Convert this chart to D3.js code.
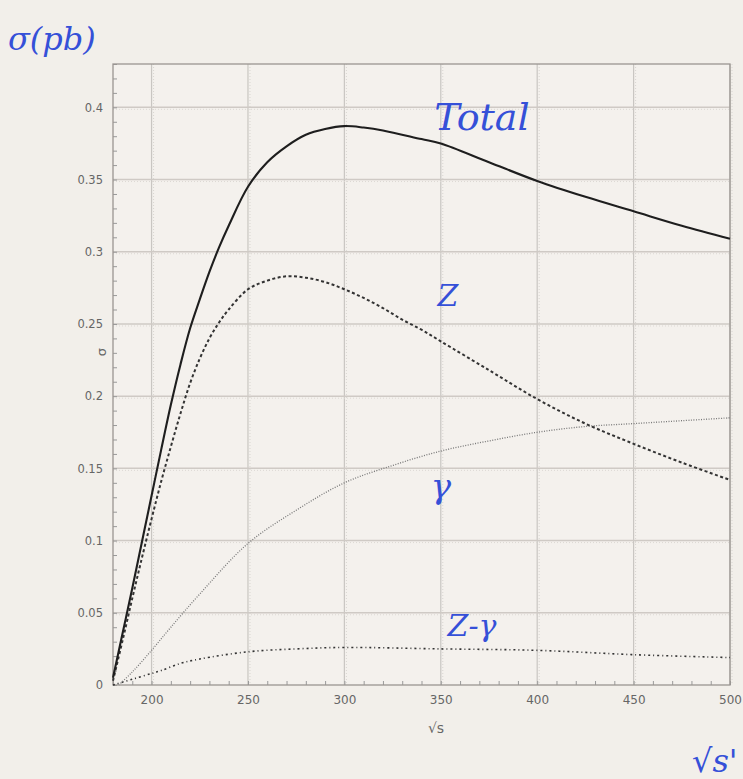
<!DOCTYPE html>
<html>
<head>
<meta charset="utf-8">
<script src="https://cdn.jsdelivr.net/npm/d3@7"></script>
<style>
  body { margin: 0; background: #f2efea; }
  svg { display: block; }
</style>
</head>
<body>
<div id="chart-area"></div>
<script>
// sqrt(s) sample points (GeV) and cross sections (pb)
var totalS   = [180, 185, 190, 195, 200, 205, 210, 215, 220, 225, 230, 235, 240, 250, 260, 270, 280, 290, 300, 310, 320, 340, 350, 375, 400, 425, 450, 475, 500];
var totalVal = [0.005, 0.036, 0.067, 0.099, 0.131, 0.163, 0.194, 0.222, 0.247, 0.267, 0.286, 0.303, 0.318, 0.345, 0.362, 0.373, 0.381, 0.385, 0.387, 0.386, 0.384, 0.378, 0.375, 0.362, 0.349, 0.338, 0.328, 0.318, 0.309];

var zS   = [180, 185, 190, 195, 200, 205, 210, 215, 220, 225, 230, 235, 240, 250, 260, 270, 280, 290, 300, 310, 320, 330, 340, 350, 375, 400, 425, 450, 475, 500];
var zVal = [0.003, 0.031, 0.06, 0.088, 0.115, 0.141, 0.165, 0.188, 0.209, 0.226, 0.24, 0.251, 0.26, 0.274, 0.28, 0.283, 0.282, 0.279, 0.274, 0.268, 0.261, 0.253, 0.246, 0.238, 0.218, 0.198, 0.181, 0.167, 0.154, 0.142];

var gS   = [183, 190, 200, 210, 225, 250, 275, 300, 325, 350, 375, 400, 425, 450, 475, 500];
var gVal = [0.0, 0.009, 0.024, 0.04, 0.063, 0.098, 0.121, 0.14, 0.152, 0.162, 0.169, 0.175, 0.179, 0.181, 0.183, 0.185];

var zgS   = [180, 190, 200, 205, 215, 225, 250, 275, 300, 350, 400, 450, 500];
var zgVal = [0.0, 0.004, 0.008, 0.01, 0.015, 0.018, 0.023, 0.025, 0.026, 0.025, 0.024, 0.021, 0.019];

var xTicks = [200, 250, 300, 350, 400, 450, 500];
var yTicks = [0, 0.05, 0.1, 0.15, 0.2, 0.25, 0.3, 0.35, 0.4];

var svgW = 743, svgH = 779;
var margin = {left: 113, top: 64, right: 13, bottom: 94};
var width = svgW - margin.left - margin.right;
var height = svgH - margin.top - margin.bottom;

var svg = d3.select("#chart-area").append("svg")
    .attr("width", svgW)
    .attr("height", svgH);

svg.append("rect").attr("width", svgW).attr("height", svgH).attr("fill", "#f2efea");

var g = svg.append("g")
    .attr("transform", "translate(" + margin.left + "," + margin.top + ")");

var x = d3.scaleLinear().domain([180, 500]).range([0, width]);
var y = d3.scaleLinear().domain([0, 0.43]).range([height, 0]);

// plot area
g.append("rect").attr("width", width).attr("height", height).attr("fill", "#f4f1ed");

// grid: pale solid line with a dotted trace beside it, like the scanned printout
xTicks.forEach(function(v) {
  g.append("line").attr("x1", x(v)).attr("x2", x(v)).attr("y1", 0).attr("y2", height)
    .attr("stroke", "#c9c6c2").attr("stroke-width", 1.2);
  g.append("line").attr("x1", x(v) + 2).attr("x2", x(v) + 2).attr("y1", 0).attr("y2", height)
    .attr("stroke", "#d8d5d1").attr("stroke-width", 1).attr("stroke-dasharray", "1,2");
});
yTicks.slice(1).forEach(function(v) {
  g.append("line").attr("x1", 0).attr("x2", width).attr("y1", y(v)).attr("y2", y(v))
    .attr("stroke", "#cfcac5").attr("stroke-width", 1.5);
  g.append("line").attr("x1", 0).attr("x2", width).attr("y1", y(v) + 2).attr("y2", y(v) + 2)
    .attr("stroke", "#dcd8d3").attr("stroke-width", 1).attr("stroke-dasharray", "1,2");
});

// minor ticks drawn inward
var yMinor = d3.axisRight(y).ticks(43).tickSize(4).tickFormat("");
g.append("g").call(yMinor).call(function(s) {
  s.select(".domain").remove();
  s.selectAll("line").attr("stroke", "#999");
});
var xMinor = d3.axisTop(x).ticks(32).tickSize(4).tickFormat("");
g.append("g").attr("transform", "translate(0," + height + ")").call(xMinor).call(function(s) {
  s.select(".domain").remove();
  s.selectAll("line").attr("stroke", "#999");
});

var xAxisCall = d3.axisBottom(x).tickValues(xTicks).tickSize(0).tickPadding(10);
g.append("g").attr("transform", "translate(0," + height + ")").call(xAxisCall).call(function(s) {
  s.select(".domain").remove();
  s.selectAll("text").attr("font-family", "DejaVu Sans").attr("font-size", 12).attr("fill", "#666");
});
var yAxisCall = d3.axisLeft(y).tickValues(yTicks).tickSize(0).tickPadding(10).tickFormat(d3.format("~g"));
g.append("g").call(yAxisCall).call(function(s) {
  s.select(".domain").remove();
  s.selectAll("text").attr("font-family", "DejaVu Sans").attr("font-size", 11.5).attr("fill", "#666");
});

// frame
g.append("rect").attr("width", width).attr("height", height)
  .attr("fill", "none").attr("stroke", "#9a9591").attr("stroke-width", 1.3);

// curves
var line = d3.line().curve(d3.curveCatmullRom.alpha(0.5))
  .x(function(d) { return x(d[0]); })
  .y(function(d) { return y(d[1]); });

var series = [
  {s: zgS, v: zgVal, color: "#333", w: 1.6, dash: "2,3,1,3"},
  {s: gS, v: gVal, color: "#777", w: 1.3, dash: "1,1.5"},
  {s: zS, v: zVal, color: "#333", w: 2, dash: "3,2.5"},
  {s: totalS, v: totalVal, color: "#1e1e1e", w: 2.1, dash: null}
];
series.forEach(function(sr) {
  var pts = sr.s.map(function(d, i) { return [d, sr.v[i]]; });
  g.append("path").datum(pts)
    .attr("d", line)
    .attr("fill", "none")
    .attr("stroke", sr.color)
    .attr("stroke-width", sr.w)
    .attr("stroke-dasharray", sr.dash);
});

// printed axis labels
svg.append("text").attr("x", 436).attr("y", 733).attr("text-anchor", "middle")
  .attr("font-family", "DejaVu Sans").attr("font-size", 14).attr("fill", "#666").text("√s");
svg.append("text").attr("transform", "translate(106,352) rotate(-90)").attr("text-anchor", "middle")
  .attr("font-family", "DejaVu Sans").attr("font-size", 13).attr("fill", "#666").text("σ");

// handwritten blue notes
var ink = "#3550d8";
var notes = [
  {t: "σ(pb)", x: 8, y: 50, size: 32, anchor: "start"},
  {t: "Total", x: 482, y: 130, size: 38, anchor: "middle"},
  {t: "Z", x: 448, y: 306, size: 30, anchor: "middle"},
  {t: "γ", x: 441, y: 498, size: 34, anchor: "middle"},
  {t: "Z-γ", x: 472, y: 636, size: 30, anchor: "middle"},
  {t: "√s'", x: 692, y: 772, size: 32, anchor: "start"}
];
notes.forEach(function(n) {
  svg.append("text").attr("x", n.x).attr("y", n.y).attr("text-anchor", n.anchor)
    .attr("font-family", "DejaVu Serif").attr("font-style", "italic")
    .attr("font-size", n.size).attr("fill", ink).text(n.t);
});
</script>
</body>
</html>
